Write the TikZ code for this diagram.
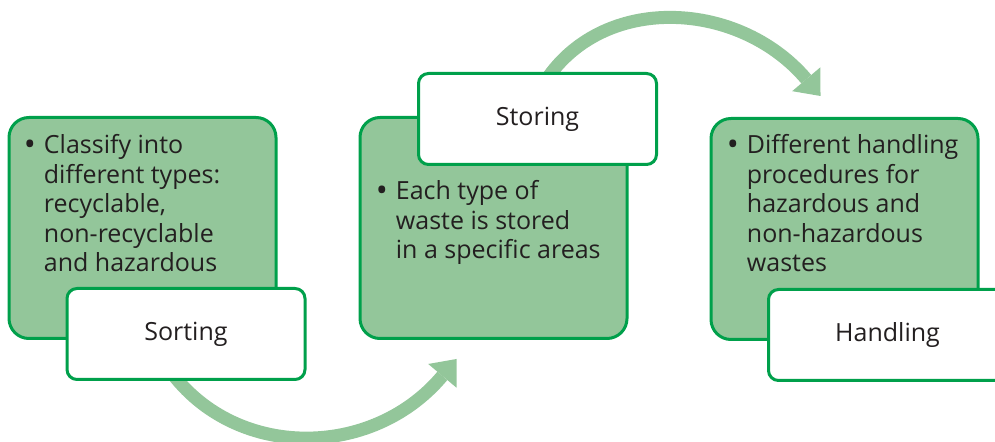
\documentclass[tikz,border=0pt]{standalone}
\usepackage{fontspec}
\setmainfont{Open Sans}
\usetikzlibrary{positioning, arrows.meta, calc, backgrounds}

\definecolor{boxgreen}{HTML}{93C69A}
\definecolor{edgegreen}{HTML}{00A04B}
\definecolor{inkgray}{HTML}{231F20}

\newcommand{\dotmark}{\raisebox{-0.6pt}{\fontsize{16}{16}\selectfont\textbullet}}

\begin{document}
\begin{tikzpicture}[x=0.5pt, y=-0.5pt,
  stage/.style={draw=edgegreen, fill=boxgreen, line width=1.5pt, rounded corners=10pt,
    minimum width=133.5pt, minimum height=110.5pt, inner sep=0pt},
  stagelabel/.style={draw=edgegreen, fill=white, line width=1.5pt, rounded corners=5pt,
    minimum width=119pt, minimum height=45.5pt, inner sep=0pt,
    font=\fontsize{12.5}{14.75}\selectfont, text=inkgray},
  bullets/.style={anchor=base west, inner sep=0pt,
    font=\fontsize{12.5}{14.75}\selectfont, text=inkgray},
  flow/.style={draw=boxgreen, line width=6.5pt,
    -{Triangle[width=18.5pt, length=11pt, line width=0pt]}}
]

\useasboundingbox (0,0) rectangle (995,442);

% Stage boxes
\node[stage] (sortbox) at (142.5,228) {};
\node[stage] (storebox) at (493.5,228) {};
\node[stage] (handlebox) at (844.5,229) {};

% Stage names
\node[stagelabel] (sortlab) at ($(sortbox)+(43.5,106)$) {Sorting};
\node[stagelabel] (storelab) at ($(storebox)+(44,-109)$) {Storing};
\node[stagelabel] (handlelab) at ($(handlebox)+(43,106)$) {Handling};

% Bullet texts
\node[bullets] (sorttext) at ($(sortbox.north west)+(16,38)$) {%
  \begin{tabular}[t]{@{}p{10pt}@{}l@{}}
    \dotmark & Classify into\\
    & different types:\\
    & recyclable,\\
    & non-recyclable\\
    & and hazardous
  \end{tabular}};
\node[bullets] (storetext) at ($(storebox.north west)+(17,84)$) {%
  \begin{tabular}[t]{@{}p{10pt}@{}l@{}}
    \dotmark & Each type of\\
    & waste is stored\\
    & in a specific areas
  \end{tabular}};
\node[bullets] (handletext) at ($(handlebox.north west)+(17,37)$) {%
  \begin{tabular}[t]{@{}p{10pt}@{}l@{}}
    \dotmark & Different handling\\
    & procedures for\\
    & hazardous and\\
    & non-hazardous\\
    & wastes
  \end{tabular}};

% Curved arrows between the stages
\coordinate (sortout) at ($(sortlab)+(-26,21)$);
\coordinate (storein) at ($(storebox.south west)+(98,19)$);
\coordinate (storeout) at ($(storelab)+(2.5,-29)$);
\coordinate (handlein) at ($(handlebox.north west)+(111,-21)$);

\begin{scope}[on background layer]
  \draw[flow] (sortout) .. controls +(60,105) and +(-88,105) .. (storein);
  \draw[flow] (storeout) .. controls +(55,-98) and +(-83,-98) .. (handlein);
\end{scope}

\end{tikzpicture}
\end{document}
